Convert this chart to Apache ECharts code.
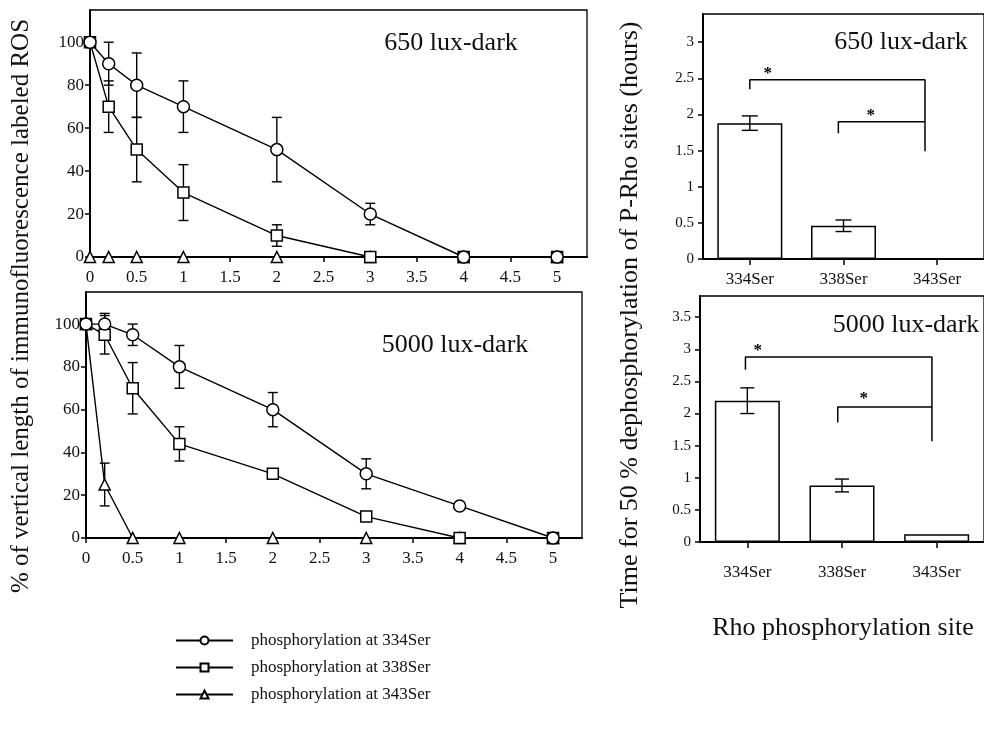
<!DOCTYPE html>
<html><head><meta charset="utf-8">
<script src="https://cdn.jsdelivr.net/npm/echarts@6/dist/echarts.min.js"></script>
<style>html,body{margin:0;padding:0;background:#fff}#c{width:984px;height:732px}</style>
</head><body><div id="c"></div>
<script>
// ---------- data ----------
const times = [0, 0.2, 0.5, 1, 2, 3, 4, 5];
const seriesNames = ['phosphorylation at 334Ser', 'phosphorylation at 338Ser', 'phosphorylation at 343Ser'];

// 650 lux-dark (percent)
const lux650_334 = [100, 90, 80, 70, 50, 20, 0, 0];
const lux650_334err = [0, 10, 15, 12, 15, 5, 0, 0];
const lux650_338 = [100, 70, 50, 30, 10, 0, 0, 0];
const lux650_338err = [0, 12, 15, 13, 5, 0, 0, 0];
const lux650_343 = [0, 0, 0, 0, 0, 0, 0, 0];
const lux650_343err = [0, 0, 0, 0, 0, 0, 0, 0];

// 5000 lux-dark (percent)
const lux5000_334 = [100, 100, 95, 80, 60, 30, 15, 0];
const lux5000_334err = [0, 5, 5, 10, 8, 7, 0, 0];
const lux5000_338 = [100, 95, 70, 44, 30, 10, 0, 0];
const lux5000_338err = [0, 9, 12, 8, 0, 0, 0, 0];
const lux5000_343 = [100, 25, 0, 0, 0, 0, 0, 0];
const lux5000_343err = [0, 10, 0, 0, 0, 0, 0, 0];

const timeTicks = [0, 0.5, 1, 1.5, 2, 2.5, 3, 3.5, 4, 4.5, 5];
const pctTicks = [0, 20, 40, 60, 80, 100];

// bar charts (hours)
const sites = ['334Ser', '338Ser', '343Ser'];
const hours650 = [1.88, 0.46, 0];
const hours650err = [0.1, 0.08, 0];
const hours5000 = [2.2, 0.88, 0.12];
const hours5000err = [0.2, 0.1, 0];
const hourTicks650 = [0, 0.5, 1, 1.5, 2, 2.5, 3];
const hourTicks5000 = [0, 0.5, 1, 1.5, 2, 2.5, 3, 3.5];

// significance brackets (x in category-band units, center of site i = i + 0.5)
const bracket650A = [[0.5, 2.35], [0.5, 2.48], [2.37, 2.48], [2.37, 1.49]];
const bracket650B = [[1.445, 1.74], [1.445, 1.90], [2.37, 1.90]];
const stars650 = [[0.69, 2.62], [1.79, 2.04]];
const bracket5000A = [[0.48, 2.68], [0.48, 2.88], [2.45, 2.88], [2.45, 1.57]];
const bracket5000B = [[1.455, 1.86], [1.455, 2.10], [2.45, 2.10]];
const stars5000 = [[0.61, 3.04], [1.73, 2.29]];

// ---------- chart ----------
const FONT = '"Liberation Serif", "DejaVu Serif", "Times New Roman", serif';
const BLACK = '#111';
const chart = echarts.init(document.getElementById('c'));

function zip(xs, ys) { return xs.map((x, i) => [x, ys[i]]); }
function zip3(xs, ys, es) { return xs.map((x, i) => [x, ys[i], es[i]]); }

function errRender(hw) {
  return function (params, api) {
    const x = api.value(0), y = api.value(1), e = api.value(2);
    if (!e) return null;
    const t = api.coord([x, y + e]), b = api.coord([x, y - e]);
    const st = { stroke: '#000', lineWidth: 1.4 };
    return {
      type: 'group', children: [
        { type: 'line', shape: { x1: t[0], y1: t[1], x2: b[0], y2: b[1] }, style: st },
        { type: 'line', shape: { x1: t[0] - hw, y1: t[1], x2: t[0] + hw, y2: t[1] }, style: st },
        { type: 'line', shape: { x1: b[0] - hw, y1: b[1], x2: b[0] + hw, y2: b[1] }, style: st }
      ]
    };
  };
}
function starRender(params, api) {
  const p = api.coord([api.value(0), api.value(1)]);
  return { type: 'text', style: { text: '*', x: p[0], y: p[1] + 4, textAlign: 'center', textVerticalAlign: 'middle', font: 'bold 17px ' + FONT, fill: '#000' } };
}

function lineSeries(name, idx, sym, ys, z) {
  return {
    type: 'line', name: name, xAxisIndex: idx, yAxisIndex: idx,
    data: zip(times, ys), symbol: sym, symbolSize: sym === 'circle' ? 12 : 11,
    showSymbol: true, z: z, animation: false,
    lineStyle: { color: '#000', width: 1.4 },
    itemStyle: { color: '#fff', borderColor: '#000', borderWidth: 1.5 }
  };
}
function errSeries(idx, ys, es, hw) {
  return {
    type: 'custom', xAxisIndex: idx, yAxisIndex: idx, renderItem: errRender(hw),
    data: zip3(times, ys, es), z: 1, silent: true, animation: false
  };
}
function bracketSeries(xi, yi, d) {
  return {
    type: 'line', xAxisIndex: xi, yAxisIndex: yi, data: d, symbol: 'none', silent: true, animation: false,
    lineStyle: { color: '#000', width: 1.5 }, z: 3
  };
}

const pctAxis = (gi) => ({
  type: 'value', gridIndex: gi, min: 0, max: 115,
  axisLine: { show: true, lineStyle: { color: '#000', width: 2 } },
  axisTick: { show: true, length: 5, lineStyle: { color: '#000', width: 1.5 }, customValues: pctTicks },
  axisLabel: { fontFamily: FONT, fontSize: 17, color: BLACK, margin: 6, customValues: pctTicks },
  splitLine: { show: false }
});
const timeAxis = (gi, max) => ({
  type: 'value', gridIndex: gi, min: 0, max: max,
  axisLine: { show: true, onZero: false, lineStyle: { color: '#000', width: 2 } },
  axisTick: { show: true, length: 5, lineStyle: { color: '#000', width: 1.5 }, customValues: timeTicks },
  axisLabel: { fontFamily: FONT, fontSize: 17, color: BLACK, margin: 12, customValues: timeTicks },
  splitLine: { show: false }
});
const siteAxis = (gi, margin) => ({
  type: 'category', gridIndex: gi, data: sites, boundaryGap: true,
  axisLine: { show: true, lineStyle: { color: '#000', width: 2 } },
  axisTick: { show: true, alignWithLabel: true, length: 6, lineStyle: { color: '#000', width: 1.5 } },
  axisLabel: { fontFamily: FONT, fontSize: 17, color: BLACK, margin: margin },
  splitLine: { show: false }
});
const hiddenX = (gi) => ({ type: 'value', gridIndex: gi, min: 0, max: 3, show: false });
const hourAxis = (gi, max, ticks) => ({
  type: 'value', gridIndex: gi, min: 0, max: max,
  axisLine: { show: true, lineStyle: { color: '#000', width: 2 } },
  axisTick: { show: true, length: 5, lineStyle: { color: '#000', width: 1.5 }, customValues: ticks },
  axisLabel: { fontFamily: FONT, fontSize: 15, color: BLACK, margin: 9, customValues: ticks },
  splitLine: { show: false }
});

const gridStyle = { show: true, borderColor: '#000', borderWidth: 1.3, backgroundColor: 'transparent' };

const option = {
  backgroundColor: '#fff',
  animation: false,
  textStyle: { fontFamily: FONT },
  grid: [
    Object.assign({ left: 90, top: 10, width: 497, height: 247 }, gridStyle),
    Object.assign({ left: 86, top: 292, width: 496, height: 246 }, gridStyle),
    Object.assign({ left: 703, top: 14, width: 290, height: 245 }, gridStyle),
    Object.assign({ left: 700, top: 296, width: 290, height: 246 }, gridStyle)
  ],
  xAxis: [timeAxis(0, 5.32), timeAxis(1, 5.31), siteAxis(2, 12), siteAxis(3, 22), hiddenX(2), hiddenX(3)],
  yAxis: [pctAxis(0), pctAxis(1), hourAxis(2, 3.39, hourTicks650), hourAxis(3, 3.83, hourTicks5000)],
  legend: {
    data: seriesNames, orient: 'vertical', left: 170, top: 627, itemWidth: 57, itemHeight: 10, itemGap: 10,
    selectedMode: false,
    textStyle: { fontFamily: FONT, fontSize: 17, color: BLACK, padding: [0, 0, 0, 13] }
  },
  graphic: [
    { type: 'text', x: 21, y: 306, rotation: Math.PI / 2, style: { text: '% of vertical length of immunofluorescence labeled ROS', font: '25px ' + FONT, fill: BLACK, textAlign: 'center', textVerticalAlign: 'middle' } },
    { type: 'text', x: 630, y: 315, rotation: Math.PI / 2, style: { text: 'Time for 50 % dephosphorylation of P-Rho sites (hours)', font: '26px ' + FONT, fill: BLACK, textAlign: 'center', textVerticalAlign: 'middle' } },
    { type: 'text', x: 843, y: 628, style: { text: 'Rho phosphorylation site', font: '26px ' + FONT, fill: BLACK, textAlign: 'center', textVerticalAlign: 'middle' } },
    { type: 'text', x: 451, y: 43, style: { text: '650 lux-dark', font: '26px ' + FONT, fill: BLACK, textAlign: 'center', textVerticalAlign: 'middle' } },
    { type: 'text', x: 455, y: 345, style: { text: '5000 lux-dark', font: '26px ' + FONT, fill: BLACK, textAlign: 'center', textVerticalAlign: 'middle' } },
    { type: 'text', x: 901, y: 42, style: { text: '650 lux-dark', font: '26px ' + FONT, fill: BLACK, textAlign: 'center', textVerticalAlign: 'middle' } },
    { type: 'text', x: 906, y: 325, style: { text: '5000 lux-dark', font: '26px ' + FONT, fill: BLACK, textAlign: 'center', textVerticalAlign: 'middle' } }
  ],
  series: [
    // 650 lux-dark lines
    errSeries(0, lux650_343, lux650_343err, 5),
    errSeries(0, lux650_338, lux650_338err, 5),
    errSeries(0, lux650_334, lux650_334err, 5),
    lineSeries(seriesNames[2], 0, 'triangle', lux650_343, 2),
    lineSeries(seriesNames[1], 0, 'rect', lux650_338, 3),
    lineSeries(seriesNames[0], 0, 'circle', lux650_334, 4),
    // 5000 lux-dark lines
    errSeries(1, lux5000_343, lux5000_343err, 5),
    errSeries(1, lux5000_338, lux5000_338err, 5),
    errSeries(1, lux5000_334, lux5000_334err, 5),
    lineSeries(seriesNames[2], 1, 'triangle', lux5000_343, 2),
    lineSeries(seriesNames[1], 1, 'rect', lux5000_338, 3),
    lineSeries(seriesNames[0], 1, 'circle', lux5000_334, 4),
    // bars 650
    {
      type: 'bar', xAxisIndex: 2, yAxisIndex: 2, data: hours650, barWidth: 65, animation: false,
      itemStyle: { color: '#fff', borderColor: '#000', borderWidth: 1.5 }, z: 2
    },
    { type: 'custom', xAxisIndex: 2, yAxisIndex: 2, renderItem: errRender(8), data: sites.map((s, i) => [i, hours650[i], hours650err[i]]), z: 3, silent: true },
    bracketSeries(4, 2, bracket650A), bracketSeries(4, 2, bracket650B),
    { type: 'custom', xAxisIndex: 4, yAxisIndex: 2, renderItem: starRender, data: stars650, z: 3, silent: true },
    // bars 5000
    {
      type: 'bar', xAxisIndex: 3, yAxisIndex: 3, data: hours5000, barWidth: 65, animation: false,
      itemStyle: { color: '#fff', borderColor: '#000', borderWidth: 1.5 }, z: 2
    },
    { type: 'custom', xAxisIndex: 3, yAxisIndex: 3, renderItem: errRender(7), data: sites.map((s, i) => [i, hours5000[i], hours5000err[i]]), z: 3, silent: true },
    bracketSeries(5, 3, bracket5000A), bracketSeries(5, 3, bracket5000B),
    { type: 'custom', xAxisIndex: 5, yAxisIndex: 3, renderItem: starRender, data: stars5000, z: 3, silent: true }
  ]
};
chart.setOption(option);
</script>
</body></html>
